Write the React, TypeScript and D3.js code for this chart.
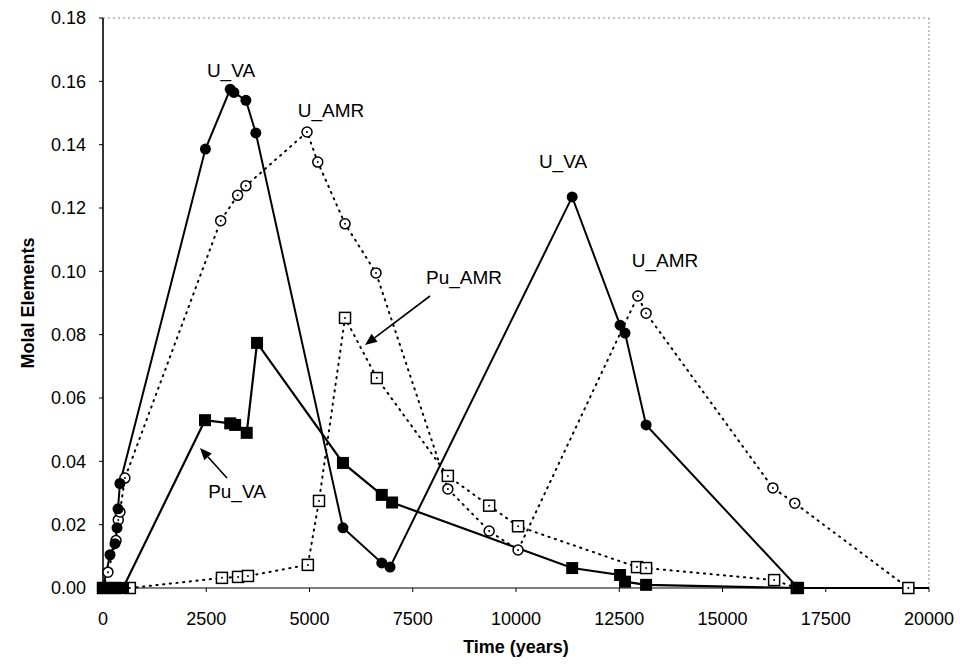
import React from "react";
import * as d3 from "d3";

type Pt = { x: number; y: number };

const xTicks = [0, 2500, 5000, 7500, 10000, 12500, 15000, 17500, 20000];
const yTicks = [0, 0.02, 0.04, 0.06, 0.08, 0.1, 0.12, 0.14, 0.16, 0.18];

const uVaX = [0, 170, 290, 340, 363, 410, 2480, 3080, 3170, 3460, 3700, 5810, 6750, 6950, 11360, 12520, 12640, 13150, 16830, 20000];
const uVaY = [0, 0.0105, 0.014, 0.019, 0.025, 0.033, 0.1386, 0.1575, 0.1565, 0.154, 0.1437, 0.019, 0.0079, 0.0066, 0.1235, 0.083, 0.0805, 0.0515, 0, 0];

const uAmrX = [0, 120, 315, 370, 410, 530, 2850, 3260, 3460, 4940, 5200, 5860, 6610, 8350, 9350, 10050, 12950, 13150, 16220, 16750, 19500];
const uAmrY = [0, 0.005, 0.015, 0.0215, 0.024, 0.0347, 0.116, 0.124, 0.127, 0.144, 0.1345, 0.115, 0.0995, 0.0313, 0.018, 0.012, 0.0922, 0.0868, 0.0316, 0.0268, 0];

const puVaX = [0, 100, 200, 300, 400, 485, 2470, 3080, 3200, 3480, 3730, 5810, 6750, 7000, 11360, 12520, 12640, 13150, 16830, 20000];
const puVaY = [0, 0, 0, 0, 0, 0, 0.053, 0.052, 0.0515, 0.049, 0.0774, 0.0395, 0.0294, 0.027, 0.0063, 0.0041, 0.002, 0.001, 0, 0];

const puAmrX = [0, 300, 650, 2880, 3270, 3510, 4960, 5230, 5860, 6630, 8350, 9350, 10050, 12930, 13150, 16250, 16800, 19500];
const puAmrY = [0, 0, 0, 0.0032, 0.0035, 0.0038, 0.0073, 0.0275, 0.0853, 0.0663, 0.0354, 0.026, 0.0195, 0.0066, 0.0063, 0.0025, 0, 0];

const zip = (xs: number[], ys: number[]): Pt[] => xs.map((x, i) => ({ x, y: ys[i] }));

const W = 960;
const H = 667;
const left = 103;
const right = 929;
const top = 18;
const bottom = 588;
const FONT = "'Liberation Sans', Arial, sans-serif";

export default function App() {
  const x = d3.scaleLinear().domain([0, 20000]).range([left, right]);
  const y = d3.scaleLinear().domain([0, 0.18]).range([bottom, top]);
  const line = d3
    .line<Pt>()
    .x((d) => x(d.x))
    .y((d) => y(d.y));

  const uVa = zip(uVaX, uVaY);
  const uAmr = zip(uAmrX, uAmrY);
  const puVa = zip(puVaX, puVaY);
  const puAmr = zip(puAmrX, puAmrY);
  const shown = (d: Pt) => d.x < 20000;

  const arrow = (x1: number, y1: number, x2: number, y2: number, key: string) => {
    const ang = Math.atan2(y2 - y1, x2 - x1);
    const L = 12;
    const Wd = 5;
    const bx = x2 - L * Math.cos(ang);
    const by = y2 - L * Math.sin(ang);
    const px = -Math.sin(ang) * Wd;
    const py = Math.cos(ang) * Wd;
    return (
      <g key={key}>
        <line x1={x1} y1={y1} x2={bx} y2={by} stroke="#000" strokeWidth={1.6} />
        <polygon points={`${x2},${y2} ${bx + px},${by + py} ${bx - px},${by - py}`} fill="#000" />
      </g>
    );
  };

  return (
    <svg
      width={W}
      height={H}
      style={{ position: "absolute", left: 0, top: 0, background: "#fff" }}
      fontFamily={FONT}
    >
      <rect x={0} y={0} width={W} height={H} fill="#fff" />
      {/* plot border top/right dotted */}
      <line x1={left} y1={top} x2={right} y2={top} stroke="#888" strokeWidth={1} strokeDasharray="2 3" />
      <line x1={right} y1={top} x2={right} y2={bottom} stroke="#888" strokeWidth={1} strokeDasharray="2 2" />
      {/* axes */}
      <line x1={left} y1={top} x2={left} y2={bottom} stroke="#000" strokeWidth={1.6} />
      <line x1={left} y1={bottom} x2={right} y2={bottom} stroke="#000" strokeWidth={1.2} />
      {yTicks.map((t) => (
        <g key={"yt" + t}>
          <line x1={left - 4} x2={left} y1={y(t)} y2={y(t)} stroke="#000" strokeWidth={1} />
          <text x={86} y={y(t)} dy="0.35em" textAnchor="end" fontSize={18} fill="#000">
            {t.toFixed(2)}
          </text>
        </g>
      ))}
      {xTicks.map((t) => (
        <g key={"xt" + t}>
          <line x1={x(t)} x2={x(t)} y1={bottom} y2={bottom + 4} stroke="#000" strokeWidth={1} />
          <text x={x(t)} y={y(0) + 31} dy="0.35em" textAnchor="middle" fontSize={18} fill="#000">
            {t}
          </text>
        </g>
      ))}
      <text
        x={x(10000)}
        y={653}
        textAnchor="middle"
        fontSize={18}
        fontWeight="bold"
        fill="#000"
      >
        Time (years)
      </text>
      <text
        transform={`translate(34,${(top + bottom) / 2}) rotate(-90)`}
        textAnchor="middle"
        fontSize={18}
        fontWeight="bold"
        fill="#000"
      >
        Molal Elements
      </text>

      {/* lines */}
      <path d={line(uAmr) || ""} fill="none" stroke="#000" strokeWidth={2} strokeDasharray="1.2 5.5" strokeLinecap="round" />
      <path d={line(puAmr) || ""} fill="none" stroke="#000" strokeWidth={2} strokeDasharray="1.2 5.5" strokeLinecap="round" />
      <path d={line(uVa) || ""} fill="none" stroke="#000" strokeWidth={2} />
      <path d={line(puVa) || ""} fill="none" stroke="#000" strokeWidth={2.2} />

      {/* markers */}
      {uAmr.filter(shown).map((d, i) => (
        <g key={"ua" + i}>
          <circle cx={x(d.x)} cy={y(d.y)} r={5} fill="#fff" stroke="#000" strokeWidth={1.5} />
          <circle cx={x(d.x)} cy={y(d.y)} r={1} fill="#000" />
        </g>
      ))}
      {puAmr.filter(shown).map((d, i) => (
        <g key={"pa" + i}>
          <rect x={x(d.x) - 5.5} y={y(d.y) - 5.5} width={11} height={11} fill="#fff" stroke="#000" strokeWidth={1.5} />
          <circle cx={x(d.x)} cy={y(d.y)} r={1} fill="#000" />
        </g>
      ))}
      {uVa.filter(shown).map((d, i) => (
        <circle key={"uv" + i} cx={x(d.x)} cy={y(d.y)} r={5.5} fill="#000" />
      ))}
      {puVa.filter(shown).map((d, i) => (
        <rect key={"pv" + i} x={x(d.x) - 6} y={y(d.y) - 6} width={12} height={12} fill="#000" />
      ))}

      {/* annotations */}
      <text x={231} y={77} textAnchor="middle" fontSize={19} fill="#000">U_VA</text>
      <text x={331} y={117} textAnchor="middle" fontSize={19} fill="#000">U_AMR</text>
      <text x={563} y={168} textAnchor="middle" fontSize={19} fill="#000">U_VA</text>
      <text x={665} y={267} textAnchor="middle" fontSize={19} fill="#000">U_AMR</text>
      <text x={464} y={284} textAnchor="middle" fontSize={19} fill="#000">Pu_AMR</text>
      <text x={237} y={498} textAnchor="middle" fontSize={19} fill="#000">Pu_VA</text>
      {arrow(430, 296, 365, 345, "a1")}
      {arrow(227, 478, 200, 448, "a2")}
    </svg>
  );
}
